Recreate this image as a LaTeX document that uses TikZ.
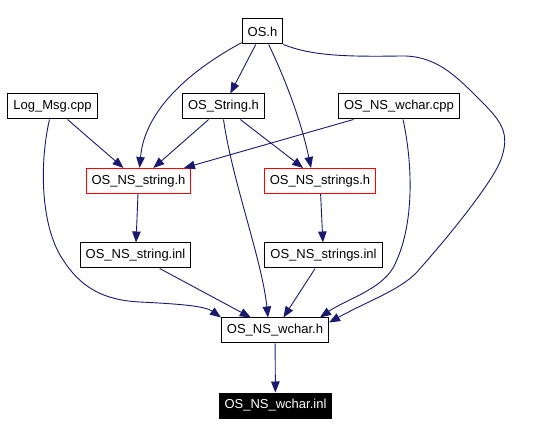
\documentclass[tikz,border=0pt]{standalone}
\usepackage{fontspec}
\setmainfont{Liberation Sans}
\usepackage{tikz}
\usetikzlibrary{arrows.meta}
\definecolor{edgeblue}{HTML}{191970}

\begin{document}
\begin{tikzpicture}[x=1pt,y=-1pt,
        file/.style={draw=black,line width=1pt,fill=white,inner xsep=5.5pt,inner ysep=0pt,minimum height=25pt,font=\fontsize{13}{15}\selectfont},
        focus/.style={file,draw=red},
        leaf/.style={file,fill=black,text=white},
        dep/.style={edgeblue,line width=0.9pt,-{Triangle[length=11pt,width=8.5pt]}}]
                \useasboundingbox (0,0) rectangle (554,435);
                \node[file] (OSh) at (262.5,31.5) {OS.h};
                \node[file] (LogMsg) at (52.5,106.5) {Log\_Msg.cpp};
                \node[file] (OSString) at (223.5,106.5) {OS\_String.h};
                \node[file] (wcharcpp) at (399,106.5) {OS\_NS\_wchar.cpp};
                \node[focus] (nsstring) at (138.5,181) {OS\_NS\_string.h};
                \node[focus] (nsstrings) at (320,181) {OS\_NS\_strings.h};
                \node[file] (nsstringinl) at (135.5,255.5) {OS\_NS\_string.inl};
                \node[file] (nsstringsinl) at (323.5,255.5) {OS\_NS\_strings.inl};
                \node[file] (wcharh) at (275,330.5) {OS\_NS\_wchar.h};
                \node[leaf] (wcharinl) at (275.5,405.5) {OS\_NS\_wchar.inl};
                \draw[dep] (OSh) .. controls (200,65) and (145,105) .. (nsstring);
                \draw[dep] (OSh) -- (OSString);
                \draw[dep] (OSh) .. controls (288,85) and (302,125) .. ([xshift=-9pt]nsstrings.north);
                \draw[dep] (OSh.south east) .. controls (310,55) and (340,57) .. (400,56) .. controls (435,55) and (455,75) .. (478,98) .. controls (500,120) and (512,132) .. (500,162) .. controls (490,185) and (450,235) .. (417,272) .. controls (400,290) and (370,300) .. ([yshift=8pt]wcharh.east);
                \draw[dep] (LogMsg) -- (nsstring);
                \draw[dep] ([xshift=-3pt]LogMsg.south) .. controls (40,160) and (40,220) .. (60,255) .. controls (75,280) and (95,300) .. (140,302) .. controls (180,304) and (205,306) .. (wcharh.north west);
                \draw[dep] (OSString) -- (nsstring);
                \draw[dep] (OSString) -- (nsstrings);
                \draw[dep] (OSString.south) .. controls (232,180) and (262,260) .. ([xshift=-7pt]wcharh.north);
                \draw[dep] (wcharcpp) -- (nsstring);
                \draw[dep] ([xshift=4pt]wcharcpp.south) .. controls (412,160) and (416,225) .. (393,268) .. controls (380,290) and (345,300) .. ([xshift=45pt]wcharh.north);
                \draw[dep] (nsstring) -- (nsstringinl);
                \draw[dep] (nsstrings) -- (nsstringsinl);
                \draw[dep] (nsstringinl) -- (wcharh);
                \draw[dep] (nsstringsinl) -- (wcharh);
                \draw[dep] (wcharh) -- (wcharinl);
            \end{tikzpicture}
\end{document}
